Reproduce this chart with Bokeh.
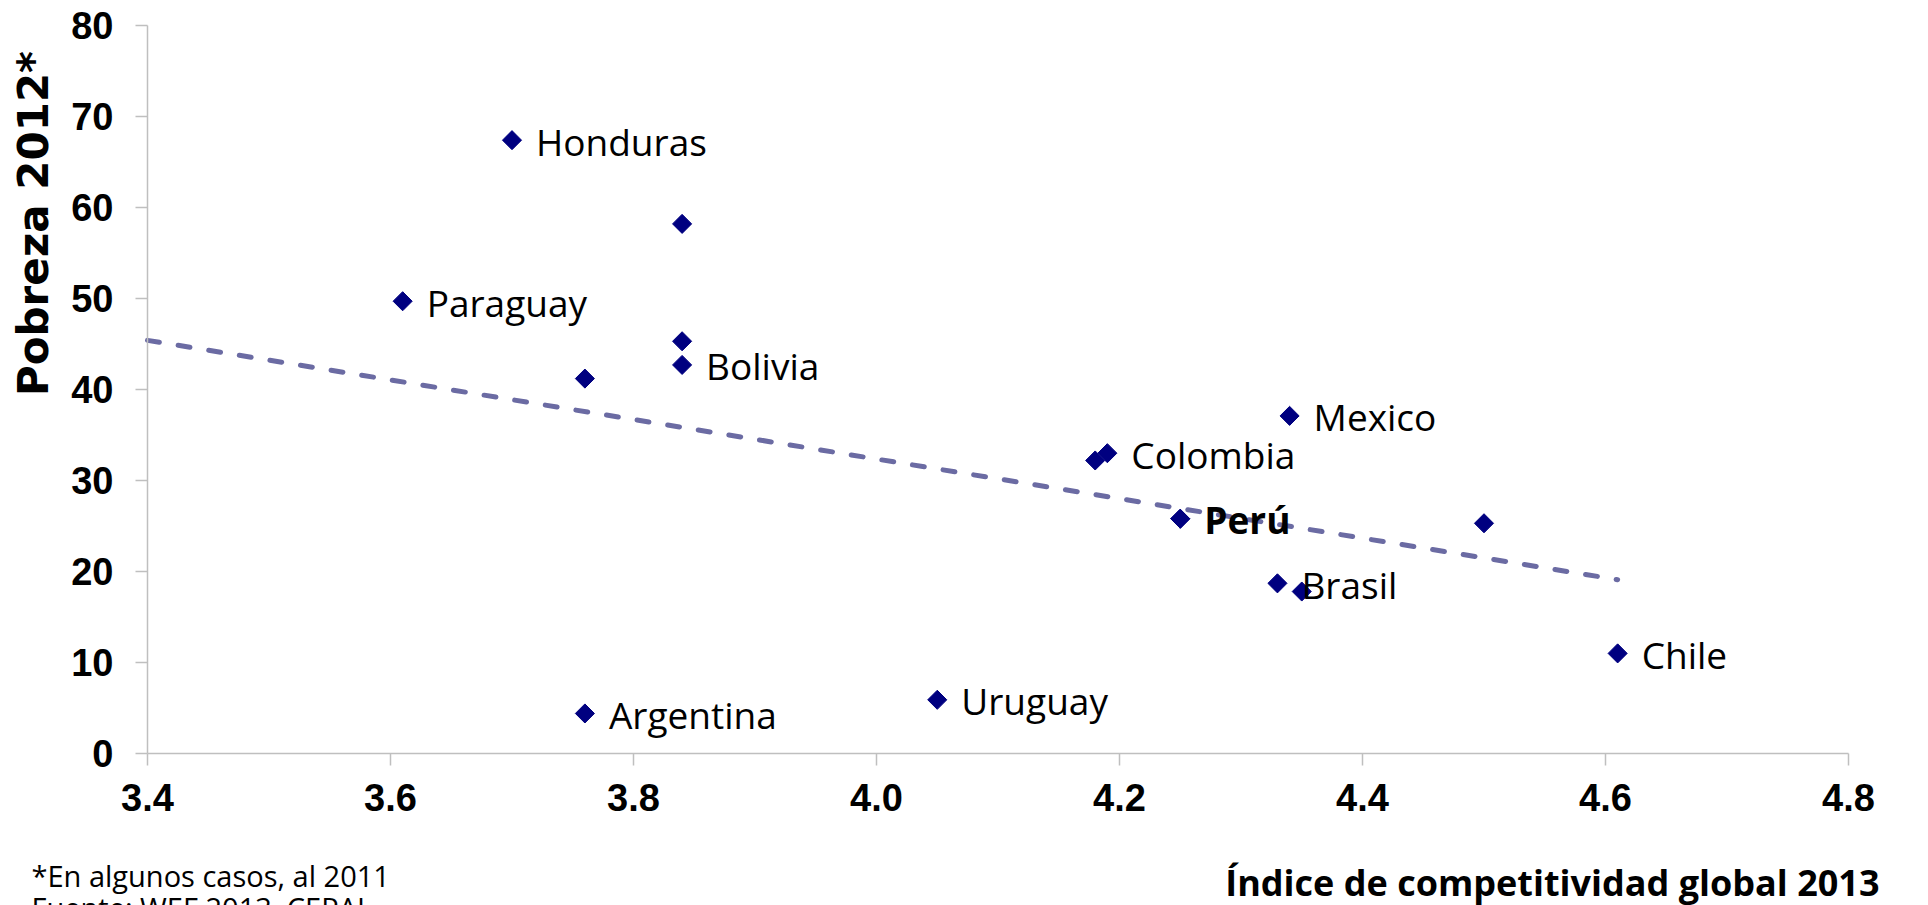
import math
from bokeh.plotting import figure
from bokeh.models import Range1d, FixedTicker, Label, ColumnDataSource, PrintfTickFormatter
from bokeh.core.properties import value
from bokeh.embed import file_html
from bokeh.resources import INLINE

# ---- data ----
competitividad = [3.70, 3.84, 3.61, 3.84, 3.84, 3.76, 4.34, 4.19, 4.18, 4.25, 4.50, 4.33, 4.35, 4.61, 4.05, 3.76]
pobreza = [67.4, 58.2, 49.7, 45.3, 42.7, 41.2, 37.1, 33.0, 32.2, 25.8, 25.3, 18.7, 17.8, 11.0, 5.9, 4.4]
etiquetas = ["Honduras", "", "Paraguay", "", "Bolivia", "", "Mexico", "Colombia", "", "", "", "Brasil", "", "Chile", "Uruguay", "Argentina"]
destacado = "Perú"
destacado_x = [4.25]
destacado_y = [25.8]
tendencia_x = [3.40, 4.61]
tendencia_y = [45.4, 19.1]
x_ticks = [3.4, 3.6, 3.8, 4.0, 4.2, 4.4, 4.6, 4.8]
y_ticks = [0, 10, 20, 30, 40, 50, 60, 70, 80]
titulo_x = "Índice de competitividad global 2013"
titulo_y = "Pobreza 2012*"
nota_1 = "*En algunos casos, al 2011"
nota_2 = "Fuente: WEF 2013, CEPAL"

# ---- layout (pixels) ----
W, H = 1920, 905
AX_L, AX_R, AX_T, AX_B = 147, 1848, 25, 753   # where the axes sit on the canvas
x0, x1 = x_ticks[0], x_ticks[-1]
y0, y1 = y_ticks[0], y_ticks[-1]
sx = (AX_R - AX_L) / (x1 - x0)
sy = (AX_B - AX_T) / (y1 - y0)
xr = Range1d(x0 - AX_L / sx, x1 + (W - AX_R) / sx)
yr = Range1d(y0 - (H - AX_B) / sy, y1 + AX_T / sy)

def px_x(px):
    return x0 + (px - AX_L) / sx

def px_y(py):
    return y0 + (AX_B - py) / sy

p = figure(width=W, height=H, output_backend="svg", toolbar_location=None,
           x_range=xr, y_range=yr, min_border=0,
           min_border_left=0, min_border_right=0, min_border_top=0, min_border_bottom=0)
p.outline_line_color = None
p.grid.visible = False
p.background_fill_color = "white"
p.border_fill_color = "white"

for ax in (p.xaxis[0], p.yaxis[0]):
    ax.axis_line_color = "#bfbfbf"
    ax.axis_line_width = 1.5
    ax.major_tick_line_color = "#bfbfbf"
    ax.major_tick_line_width = 1.5
    ax.major_tick_out = 12
    ax.major_tick_in = 0
    ax.minor_tick_line_color = None
    ax.major_label_text_font = "Liberation Sans"
    ax.major_label_text_font_style = "bold"
    ax.major_label_text_font_size = "38px"
    ax.major_label_text_color = "black"

p.xaxis[0].ticker = FixedTicker(ticks=x_ticks)
p.xaxis[0].formatter = PrintfTickFormatter(format="%.1f")
p.xaxis[0].major_label_standoff = 18
p.xaxis[0].fixed_location = y0
p.xaxis[0].bounds = (x0, x1)
p.yaxis[0].ticker = FixedTicker(ticks=y_ticks)
p.yaxis[0].major_label_standoff = 22
p.yaxis[0].fixed_location = x0
p.yaxis[0].bounds = (y0, y1)

# trend line
p.line(tendencia_x, tendencia_y, line_color="#6b6ba3", line_width=5, line_dash="12 19", line_cap="round")

# points
src = ColumnDataSource(dict(x=competitividad, y=pobreza, t=etiquetas))
p.scatter("x", "y", source=src, marker="square", angle=math.pi / 4, size=13.5,
          fill_color="#000080", line_color="#000080")
p.scatter(destacado_x, destacado_y, marker="square", angle=math.pi / 4, size=13.5,
          fill_color="#000080", line_color="#000080")

p.text("x", "y", text="t", source=src, x_offset=24, y_offset=1,
       text_font=value("Open Sans"), text_font_size="37px", text_color="black",
       text_baseline="alphabetic", text_align="left")
p.text(destacado_x, destacado_y, text=[destacado], x_offset=24, y_offset=1,
       text_font=value("Open Sans"), text_font_size="37px", text_font_style="bold",
       text_color="black", text_baseline="alphabetic", text_align="left")

# titles / notes
p.add_layout(Label(x=px_x(1879), y=px_y(882), text=titulo_x,
                   text_font="Open Sans", text_font_style="bold", text_font_size="36px",
                   text_align="right", text_baseline="alphabetic", text_color="black"))
p.add_layout(Label(x=px_x(33), y=px_y(223), text=titulo_y,
                   angle=math.pi / 2, text_font="DejaVu Sans", text_font_style="bold",
                   text_font_size="42px", text_align="center", text_baseline="middle",
                   text_color="black"))
p.add_layout(Label(x=px_x(31), y=px_y(875), text=nota_1,
                   text_font="Open Sans", text_font_size="29px", text_align="left",
                   text_baseline="alphabetic", text_color="black"))
p.add_layout(Label(x=px_x(31), y=px_y(907), text=nota_2,
                   text_font="Open Sans", text_font_size="29px", text_align="left",
                   text_baseline="alphabetic", text_color="black"))

open("out.html", "w").write(file_html(p, INLINE))
